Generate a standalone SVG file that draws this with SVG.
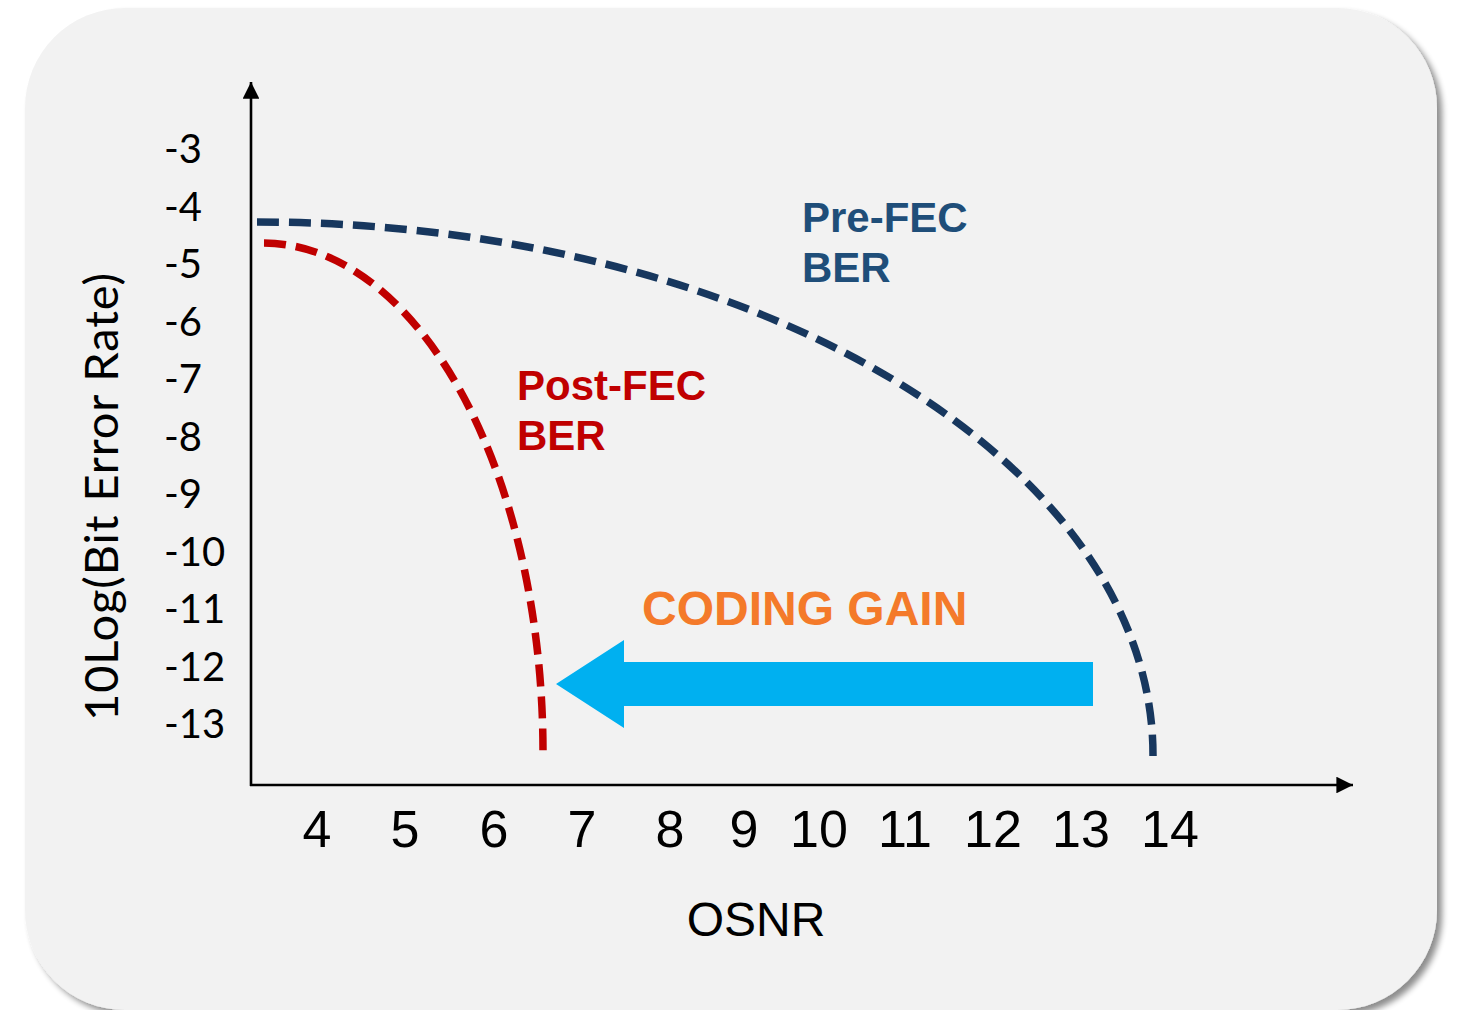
<svg xmlns="http://www.w3.org/2000/svg" width="1459" height="1010" viewBox="0 0 1459 1010">
  <defs>
    <filter id="panelShadow" x="-5%" y="-5%" width="110%" height="110%">
      <feGaussianBlur in="SourceAlpha" stdDeviation="3"/>
      <feOffset dx="5" dy="5" result="blur"/>
      <feComponentTransfer><feFuncA type="linear" slope="0.45"/></feComponentTransfer>
      <feMerge><feMergeNode/><feMergeNode in="SourceGraphic"/></feMerge>
    </filter>
    <marker id="axisHead" viewBox="0 0 10 10" refX="10" refY="5" markerWidth="6.4" markerHeight="6.4" orient="auto" markerUnits="strokeWidth">
      <path d="M0,0 L10,5 L0,10 Z" fill="#000"/>
    </marker>
    <style>
      .axis { stroke: #000; stroke-width: 2.6; fill: none; }
      .curve { fill: none; stroke-width: 7.5; stroke-dasharray: 22 10; }
      .pre { stroke: #17375E; }
      .post { stroke: #C00000; }
      .tick { font-family: "Lato", "Liberation Sans", sans-serif; font-size: 40px; fill: #000; }
      .xtick { font-family: "Liberation Sans", Arial, sans-serif; font-size: 52px; fill: #000; text-anchor: middle; }
      .title { font-family: "Liberation Sans", Arial, sans-serif; font-size: 48px; fill: #000; text-anchor: middle; }
      .ytitle { font-family: "Lato", "Liberation Sans", sans-serif; font-size: 47px; fill: #000; text-anchor: middle; }
      .lbl { font-family: "Liberation Sans", Arial, sans-serif; font-weight: bold; font-size: 42px; }
    </style>
  </defs>

  <!-- background panel -->
  <rect x="25" y="8" width="1412" height="1002" rx="100" ry="100" fill="#F2F2F2" filter="url(#panelShadow)"/>

  <!-- axes -->
  <g id="axes">
    <line class="axis" x1="251" y1="786" x2="251" y2="82" marker-end="url(#axisHead)"/>
    <line class="axis" x1="250" y1="785" x2="1353" y2="785" marker-end="url(#axisHead)"/>
  </g>

  <!-- y tick labels -->
  <g id="y-ticks" class="tick">
    <text x="164" y="163">-3</text>
    <text x="164" y="220.5">-4</text>
    <text x="164" y="278">-5</text>
    <text x="164" y="335.5">-6</text>
    <text x="164" y="393">-7</text>
    <text x="164" y="450.5">-8</text>
    <text x="164" y="508">-9</text>
    <text x="164" y="565.5">-10</text>
    <text x="164" y="623">-11</text>
    <text x="164" y="680.5">-12</text>
    <text x="164" y="738">-13</text>
  </g>

  <!-- x tick labels -->
  <g id="x-ticks" class="xtick">
    <text x="317" y="847">4</text>
    <text x="405" y="847">5</text>
    <text x="494" y="847">6</text>
    <text x="582" y="847">7</text>
    <text x="670" y="847">8</text>
    <text x="744" y="847">9</text>
    <text x="819" y="847">10</text>
    <text x="905" y="847">11</text>
    <text x="993" y="847">12</text>
    <text x="1081" y="847">13</text>
    <text x="1170" y="847">14</text>
  </g>

  <!-- axis titles -->
  <g id="x-title"><text class="title" x="756" y="936">OSNR</text></g>
  <g id="y-title"><text class="ytitle" transform="translate(118,497) rotate(-90)" x="0" y="0" textLength="448">10Log(Bit Error Rate)</text></g>

  <!-- curves -->
  <g id="connectors">
    <path id="pre-fec-curve" class="curve pre" d="M257,222 A896,533 0 0 1 1153,756"/>
    <path id="post-fec-curve" class="curve post" d="M264,243 A280,509 0 0 1 543,752"/>
  </g>

  <!-- curve labels -->
  <g id="pre-fec-label" class="lbl" fill="#1F4E79">
    <text x="802" y="232">Pre-FEC</text>
    <text x="802" y="282">BER</text>
  </g>
  <g id="post-fec-label" class="lbl" fill="#C00000">
    <text x="517" y="400">Post-FEC</text>
    <text x="517" y="450">BER</text>
  </g>

  <!-- coding gain arrow -->
  <g id="coding-gain">
    <text x="642" y="625" font-family="Liberation Sans, Arial, sans-serif" font-weight="bold" font-size="48" fill="#F47A2A">CODING GAIN</text>
    <polygon points="556,684 624,640 624,662 1093,662 1093,706 624,706 624,728" fill="#00B0F0"/>
  </g>
</svg>
